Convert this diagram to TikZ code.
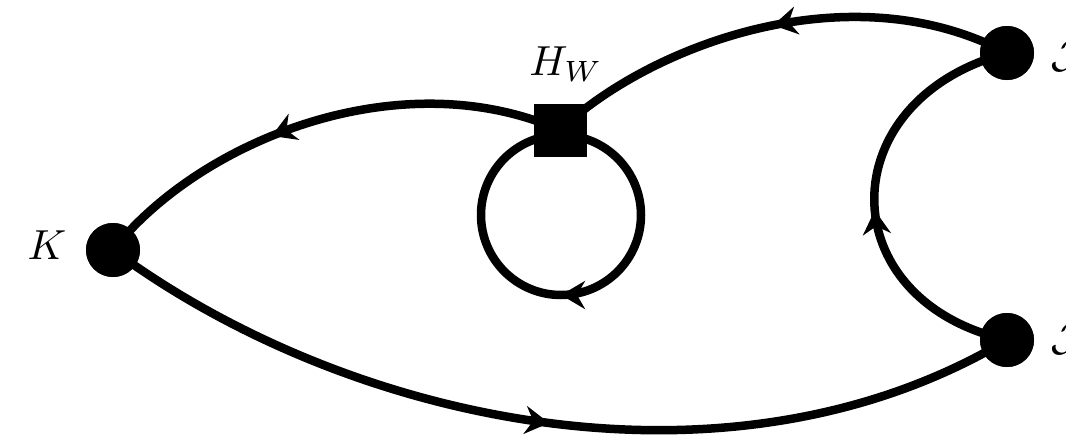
\documentclass[tikz,border=0pt]{standalone}
\usetikzlibrary{arrows.meta,decorations.markings}
\tikzset{
  dot/.style={circle,fill=black,inner sep=0pt,minimum size=54pt},
  vertexbox/.style={rectangle,fill=black,inner sep=0pt,minimum size=53pt},
  prop/.style={line width=8.5pt},
  midarrow/.style={postaction={decorate,decoration={markings,
     mark=at position #1 with {\arrow{Stealth[length=24pt,width=28pt,inset=8pt]}}}}},
  lbl/.style={scale=4.2,inner sep=0pt}
}
\begin{document}
\begin{tikzpicture}[x=1pt,y=-1pt]
\clip (0,0) rectangle (1066,442);
\useasboundingbox (0,0) rectangle (1066,442);
\node[dot] (K) at (113,250) {};
\node[dot] (J1) at (1007,53) {};
\node[dot] (J2) at (1007,340) {};
\node[vertexbox] (H) at (560,130) {};
\coordinate (L) at (561,215);
\node[lbl] (lK) at (47,245) {$K$};
\node[lbl] (lH) at (566,64) {$H_W$};
\node[lbl,anchor=west] (lJ1) at (1050,55) {$\mathcal{J}$};
\node[lbl,anchor=west] (lJ2) at (1050,338) {$\mathcal{J}$};
\begin{scope}[prop]
\draw[midarrow=0.6] (H.center) .. controls (400,60) and (200,140) .. (K.center);
\draw[midarrow=0.5] (J1.center) .. controls (850,-30) and (650,45) .. (H.center);
\draw[midarrow=0.47] (J2.center) .. controls (830,300) and (830,100) .. (J1.center);
\draw[midarrow=0.5] (K.center) .. controls (350,425) and (730,505) .. (J2.center);
\draw[midarrow=0.5] (L) ++(0,-80) arc[start angle=-90,end angle=270,radius=80];
\end{scope}
\node[dot] at (K) {};
\node[dot] at (J1) {};
\node[dot] at (J2) {};
\node[vertexbox] at (H) {};
\end{tikzpicture}
\end{document}
